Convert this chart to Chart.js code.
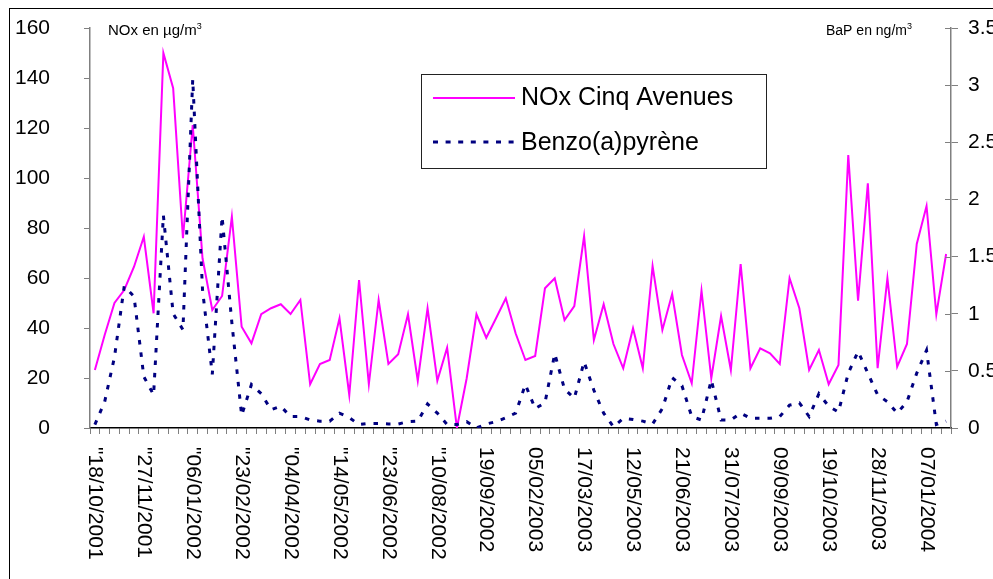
<!DOCTYPE html>
<html>
<head>
<meta charset="utf-8">
<script src="https://cdn.jsdelivr.net/npm/chart.js@4/dist/chart.umd.min.js"></script>
<style>
  body { margin: 0; background: #fff; }
  #wrap { width: 993px; height: 579px; }
</style>
</head>
<body>
<div id="wrap"><canvas id="myChart" width="993" height="579"></canvas></div>
<script>
// one sample every ~8 days, a date label on every 5th sample
const tickLabels = ['"18/10/2001', '"27/11/2001', '"06/01/2002', '"23/02/2002', '"04/04/2002',
  '"14/05/2002', '"23/06/2002', '"10/08/2002', '19/09/2002', '05/02/2003', '17/03/2003',
  '12/05/2003', '21/06/2003', '31/07/2003', '09/09/2003', '19/10/2003', '28/11/2003', '07/01/2004'];

// NOx Cinq Avenues, µg/m3 (left axis)
const noxValues = [23.2, 37.2, 50, 55.2, 64.5, 76.5, 45.9, 150, 135.9, 75.9,
  121.2, 67.9, 47.2, 52.8, 84.5, 40.5, 33.9, 45.5, 47.9, 49.5,
  45.6, 51.2, 17.5, 25.6, 27.2, 43.9, 13.2, 59.2, 17.5, 51.2,
  25.6, 29.5, 45.5, 18.9, 47.9, 18.9, 32.1, 0, 19.9, 45.5,
  36.1, 43.9, 51.9, 37.9, 27.2, 28.8, 55.9, 59.9, 43.2, 48.8,
  76.8, 35.2, 49.5, 33.6, 23.9, 39.9, 23.9, 64.8, 39.2, 53.6,
  29.2, 17.9, 54.9, 19.9, 44.8, 23.2, 65.6, 23.9, 31.9, 29.9,
  25.6, 59.9, 47.9, 23.2, 31.2, 17.5, 25.2, 109.2, 50.9, 97.9,
  23.9, 59.9, 24.5, 33.6, 73.6, 88.8, 45.5, 69.6];

// Benzo(a)pyrène, ng/m3 (right axis)
const bapValues = [0.03, 0.23, 0.62, 1.24, 1.15, 0.45, 0.29, 1.86, 1.0, 0.86,
  3.05, 1.21, 0.47, 1.85, 0.92, 0.11, 0.38, 0.30, 0.16, 0.19,
  0.10, 0.10, 0.07, 0.06, 0.06, 0.13, 0.09, 0.03, 0.04, 0.04,
  0.035, 0.035, 0.055, 0.06, 0.21, 0.13, 0.03, 0.03, 0.055, 0,
  0.035, 0.055, 0.09, 0.13, 0.38, 0.17, 0.22, 0.65, 0.34, 0.26,
  0.58, 0.33, 0.13, 0.01, 0.085, 0.075, 0.06, 0.035, 0.17, 0.44,
  0.37, 0.10, 0.07, 0.42, 0.07, 0.07, 0.13, 0.085, 0.085, 0.085,
  0.10, 0.20, 0.22, 0.10, 0.30, 0.19, 0.14, 0.48, 0.67, 0.48,
  0.29, 0.23, 0.13, 0.23, 0.48, 0.68, 0.03, 0.06];

const categories = noxValues.map((_, i) => (i % 5 === 0 ? tickLabels[i / 5] : ''));

const FONT = '"Liberation Sans", Arial, sans-serif';

const extras = {
  id: 'extras',
  beforeDraw(chart) {
    const c = chart.ctx;
    c.save();
    c.fillStyle = '#fff';
    c.fillRect(0, 0, chart.width, chart.height);
    c.restore();
  },
  afterDraw(chart) {
    const c = chart.ctx;
    const x = chart.scales.x;
    const y1 = chart.scales.y1;
    c.save();

    // date labels, turned clockwise
    c.fillStyle = '#000';
    c.font = '21px ' + FONT;
    c.textAlign = 'left';
    c.textBaseline = 'middle';
    categories.forEach((lab, i) => {
      if (!lab) return;
      c.save();
      c.translate(x.getPixelForValue(i), 447);
      c.rotate(Math.PI / 2);
      c.fillText(lab, 0, 0);
      c.restore();
    });

    // inner half of the right axis cross ticks
    c.strokeStyle = '#808080';
    c.lineWidth = 1;
    y1.ticks.forEach((t) => {
      const py = Math.round(y1.getPixelForValue(t.value)) + 0.5;
      c.beginPath();
      c.moveTo(y1.left - 6, py);
      c.lineTo(y1.left, py);
      c.stroke();
    });

    // unit titles
    c.textBaseline = 'alphabetic';
    c.font = '15px ' + FONT;
    c.fillText('NOx en µg/m', 108, 35);
    let w = c.measureText('NOx en µg/m').width;
    c.font = '9px ' + FONT;
    c.fillText('3', 108 + w, 29);
    c.font = '14px ' + FONT;
    c.fillText('BaP en ng/m', 826, 35);
    w = c.measureText('BaP en ng/m').width;
    c.font = '9px ' + FONT;
    c.fillText('3', 826 + w, 29);

    // legend box
    c.strokeStyle = '#222';
    c.lineWidth = 1;
    c.strokeRect(421.5, 74.5, 345, 94);
    c.strokeStyle = '#ff00ff';
    c.lineWidth = 2;
    c.beginPath();
    c.moveTo(433, 98);
    c.lineTo(515, 98);
    c.stroke();
    c.strokeStyle = '#000080';
    c.lineWidth = 3;
    c.setLineDash([5, 7.6]);
    c.beginPath();
    c.moveTo(433, 142);
    c.lineTo(515, 142);
    c.stroke();
    c.setLineDash([]);
    c.fillStyle = '#000';
    c.font = '25px ' + FONT;
    c.fillText('NOx Cinq Avenues', 521, 105);
    c.fillText('Benzo(a)pyrène', 521, 150);

    // outer frame
    c.strokeStyle = '#000';
    c.lineWidth = 1;
    c.strokeRect(9.5, 8.5, chart.width + 20, chart.height + 20);
    c.restore();
  }
};

new Chart('myChart', {
  type: 'line',
  data: {
    labels: categories,
    datasets: [
      {
        label: 'NOx Cinq Avenues',
        data: noxValues,
        yAxisID: 'y',
        borderColor: '#ff00ff',
        borderWidth: 2,
        pointRadius: 0,
        tension: 0,
        order: 1
      },
      {
        label: 'Benzo(a)pyrène',
        data: bapValues,
        yAxisID: 'y1',
        borderColor: '#000080',
        borderWidth: 3,
        borderDash: [4.5, 8],
        pointRadius: 0,
        tension: 0,
        order: 0
      }
    ]
  },
  options: {
    responsive: false,
    animation: false,
    layout: { padding: { top: 28, left: 0, right: 0, bottom: 0 } },
    plugins: { legend: { display: false }, tooltip: { enabled: false } },
    scales: {
      x: {
        type: 'category',
        offset: true,
        grid: { drawOnChartArea: false, offset: true, tickLength: 6, color: '#808080' },
        border: { color: '#000', width: 1.5 },
        ticks: { display: false, autoSkip: false },
        afterFit: (s) => { s.height = 151; }
      },
      y: {
        position: 'left',
        min: 0,
        max: 160,
        ticks: { stepSize: 20, padding: 34, color: '#000', font: { family: FONT, size: 21 } },
        grid: { drawOnChartArea: false, tickLength: 6, color: '#808080' },
        border: { color: '#808080', width: 1.5 },
        afterFit: (s) => { s.width = 90; s.paddingTop = 0; s.paddingBottom = 0; }
      },
      y1: {
        position: 'right',
        min: 0,
        max: 3.5,
        ticks: {
          stepSize: 0.5, padding: 10, color: '#000', font: { family: FONT, size: 21 },
          callback: (v) => String(v)
        },
        grid: { drawOnChartArea: false, tickLength: 7, color: '#808080' },
        border: { color: '#808080', width: 1.5 },
        afterFit: (s) => { s.width = 42; s.paddingTop = 0; s.paddingBottom = 0; }
      }
    }
  },
  plugins: [extras]
});
</script>
</body>
</html>
